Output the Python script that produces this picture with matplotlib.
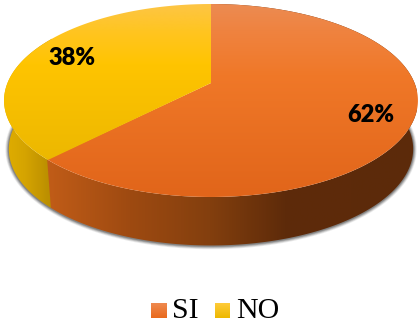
import numpy as np
import matplotlib
matplotlib.use("Agg")
import matplotlib.pyplot as plt
from matplotlib.colors import LinearSegmentedColormap, to_rgb
from matplotlib.patches import Polygon

categories = ["SI", "NO"]
shares = [62, 38]
percent_labels = ["62%", "38%"]

W, H = 418, 324
fig = plt.figure(figsize=(W / 100, H / 100), dpi=100)
ax = fig.add_axes([0, 0, 1, 1])
ax.set_axis_off()


def project(theta, depth=0.0, scale=1.0):
    """Perspective view of the unit disc; theta runs clockwise from twelve o'clock."""
    t = theta + 0.023 * np.sin(2 * theta)
    u, v = np.sin(t), np.cos(t)
    w = 1 + 0.1813 * v
    x = 211 + 203.5 * scale * u / w
    y = (83 - 78.27 * v) / w + depth
    return x, y


def ramp(stops, horizontal, lo, hi, patch, z):
    """Paint a gradient through a clipping polygon."""
    pos = [(p - lo) / (hi - lo) for p, _ in stops]
    cmap = LinearSegmentedColormap.from_list("r", list(zip(pos, [to_rgb(c) for _, c in stops])))
    g = np.linspace(0, 1, 256)
    data = g[None, :] if horizontal else g[:, None]
    ext = (lo, hi, H, 0) if horizontal else (0, W, hi, lo)
    im = ax.imshow(data, cmap=cmap, extent=ext, aspect="auto", zorder=z,
                   interpolation="bilinear", vmin=0, vmax=1)
    patch.set(facecolor="none", edgecolor="none", transform=ax.transData)
    ax.add_patch(patch)
    im.set_clip_path(patch)


def arc(a, b, n=240, **kw):
    x, y = project(np.linspace(a, b, n), **kw)
    return np.column_stack([x, y])


total = sum(shares)
si_sweep = 2 * np.pi * shares[0] / total
side_kw = dict(depth=48.5, scale=0.977)

# soft shadow hugging the lower rim
full = arc(0, 2 * np.pi, 360, **side_kw)
for lw, alpha in [(5, 0.10), (3.8, 0.16), (2.6, 0.22), (1.4, 0.30)]:
    ax.plot(full[:, 0], full[:, 1] + 0.3, color="#303030", lw=lw, alpha=alpha, zorder=1.5)

# rim walls; the orange wall starts a little early so no seam shows between the two
si_top = arc(0, si_sweep)
si_low = arc(0, si_sweep, **side_kw)
no_top = arc(si_sweep - 0.006, 2 * np.pi)
no_low = arc(si_sweep - 0.006, 2 * np.pi, **side_kw)
ramp([(4, "#E0AE00"), (25, "#D5A400"), (52, "#B88C00")],
     True, 4, 52, Polygon(np.vstack([no_top, no_low[::-1]]), closed=True), 2)
ramp([(40, "#C45E18"), (130, "#9E4A11"), (210, "#833F0E"), (285, "#5E2B0A"), (417, "#5C2A0A")],
     True, 40, 417, Polygon(np.vstack([si_top, si_low[::-1]]), closed=True), 2.1)

# top face
apex = np.array([[211.0, 83.0]])
ramp([(4, "#EC8B52"), (30, "#EF8340"), (75, "#F07828"), (197, "#E1651A")],
     False, 4, 197, Polygon(np.vstack([apex, si_top]), closed=True), 3)
ramp([(4, "#FDC545"), (30, "#FFC522"), (65, "#FFC400"), (165, "#EBB700")],
     False, 4, 165, Polygon(np.vstack([apex, no_top]), closed=True), 3.1)

# percentage labels
label_xy = [(371, 115), (72, 58)]
for txt, (lx, ly) in zip(percent_labels, label_xy):
    ax.text(lx, ly, txt, family="Lato", weight="heavy", fontsize=17, color="black",
            ha="center", va="center", zorder=5)

# legend row
swatches = [((151, 167), [(303, "#EF8A50"), (318, "#E9691C")]),
            ((215, 230), [(303, "#FFCB3A"), (318, "#EDB800")])]
text_x = [172.5, 236]
for name, ((x0, x1), stops), tx in zip(categories, swatches, text_x):
    ramp(stops, False, stops[0][0], stops[1][0],
         Polygon([(x0, 303), (x1, 303), (x1, 318), (x0, 318)], closed=True), 3)
    ax.text(tx, 311, name, family="Liberation Serif", fontsize=21.5, color="black",
            ha="left", va="center", zorder=5)

ax.set_xlim(0, W)
ax.set_ylim(H, 0)
fig.savefig("out.png", dpi=100, facecolor="white")
